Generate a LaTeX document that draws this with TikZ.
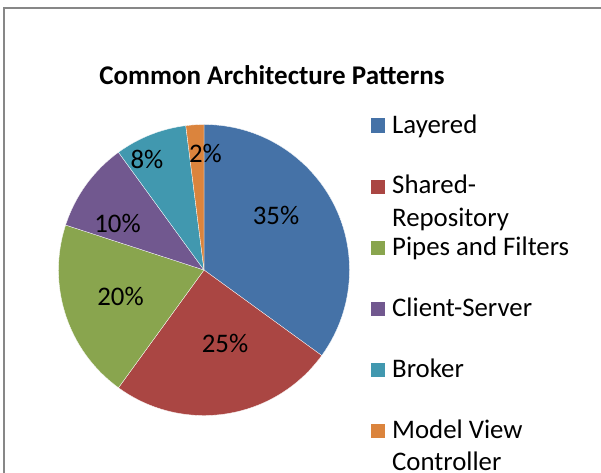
\documentclass[tikz,border=0pt]{standalone}
\usepackage{fontspec}
\setmainfont{Carlito}
\definecolor{cLayered}{HTML}{4572A7}
\definecolor{cShared}{HTML}{AA4643}
\definecolor{cPipes}{HTML}{89A54E}
\definecolor{cClient}{HTML}{71588F}
\definecolor{cBroker}{HTML}{4198AF}
\definecolor{cMVC}{HTML}{DB843D}
\definecolor{frameGray}{HTML}{878787}
\tikzset{
  chartfont/.style={font=\fontsize{26.8}{33}\selectfont},
  pctlabel/.style={chartfont, anchor=base, inner sep=0pt},
  legendtext/.style={chartfont, anchor=base west, inner sep=0pt},
  slice/.style={draw=white, line width=0.3pt},
}
\newcommand{\pieslice}[3]{%
  \fill[#3, slice] (pc) -- ++(#1:145.5) arc[start angle=#1, end angle=#2, radius=145.5] -- cycle;}
\newcommand{\legendbox}[2]{%
  \fill[#2] (370.5,{472-#1-7}) rectangle +(14,14);}
\begin{document}
\begin{tikzpicture}[x=1pt,y=1pt]
  \useasboundingbox (0,0) rectangle (601,472);
  \fill[white] (0,0) rectangle (601,472);
  \begin{scope}
    \clip (0,0) rectangle (601,472);
    \draw[frameGray, line width=2pt] (4,-20) -- (4,464.3) -- (640,464.3);
  \end{scope}

  % title
  \node[anchor=base, inner sep=0pt, font=\fontsize{27}{33}\bfseries\selectfont]
    (title) at (272,{472-84.3}) {Common Architecture Patterns};

  % pie
  \coordinate (pc) at (204,202);
  \pieslice{90}{-36}{cLayered}
  \pieslice{-36}{-126}{cShared}
  \pieslice{-126}{-198}{cPipes}
  \pieslice{-198}{-234}{cClient}
  \pieslice{-234}{-262.8}{cBroker}
  \pieslice{-262.8}{-270}{cMVC}

  % percentage labels
  \node[pctlabel] (p35) at (276,{472-224}) {35\%};
  \node[pctlabel] (p25) at (225,{472-352}) {25\%};
  \node[pctlabel] (p20) at (120.5,{472-305}) {20\%};
  \node[pctlabel] (p10) at (117.5,{472-232}) {10\%};
  \node[pctlabel] (p8)  at (147,{472-168.3}) {8\%};
  \node[pctlabel] (p2)  at (205.5,{472-162.7}) {2\%};

  % legend
  \legendbox{125.5}{cLayered}
  \legendbox{186.5}{cShared}
  \legendbox{247.5}{cPipes}
  \legendbox{308.5}{cClient}
  \legendbox{369.5}{cBroker}
  \legendbox{430.5}{cMVC}
  \node[legendtext] (lg1) at (392,{472-133.3}) {Layered};
  \node[legendtext] (lg2) at (392,{472-193.5}) {Shared-};
  \node[legendtext] (lg2b) at (392,{472-226}) {Repository};
  \node[legendtext] (lg3) at (392,{472-255}) {Pipes and Filters};
  \node[legendtext] (lg4) at (392,{472-316}) {Client-Server};
  \node[legendtext] (lg5) at (392,{472-377}) {Broker};
  \node[legendtext] (lg6) at (392,{472-438}) {Model View};
  \node[legendtext] (lg6b) at (392,{472-470}) {Controller};
\end{tikzpicture}
\end{document}
